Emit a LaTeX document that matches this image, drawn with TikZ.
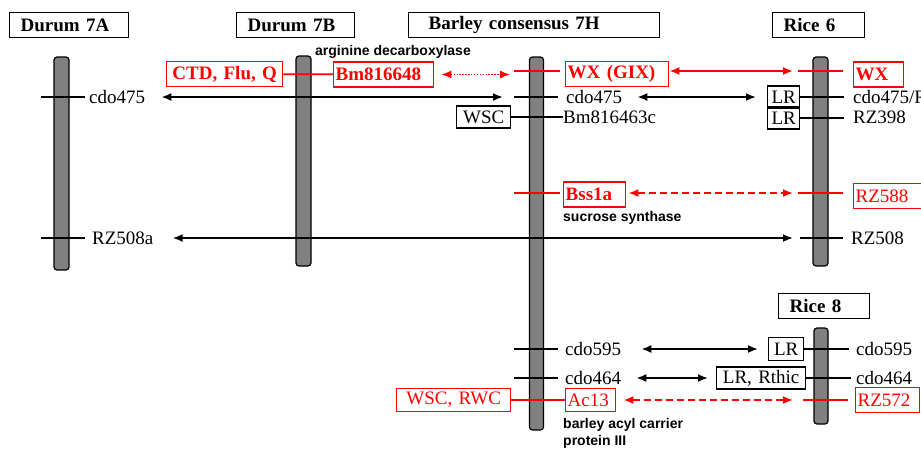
\documentclass[tikz,border=0pt]{standalone}
\usepackage{fontspec}
\setmainfont{Liberation Serif}
\setsansfont{Liberation Sans}
\usepackage{tikz}
\usetikzlibrary{positioning,arrows.meta,calc}
\definecolor{ink}      {HTML}{000000}
\definecolor{hot}      {HTML}{FF0000}
\definecolor{chromfill}{HTML}{808080}
\newcommand\mkfont{\fontsize{19}{21}\selectfont}
\newcommand\genefont{\fontsize{14}{17}\selectfont\sffamily\bfseries}
\tikzset{
  >={Latex[length=10pt,width=8pt]},
  % --- nodes
  hdr/.style   = {draw=ink, line width=1.4pt, anchor=north west, align=left,
                  minimum height=25pt, inner ysep=0pt, inner xsep=11pt,
                  font=\mkfont\bfseries, text width=#1},
  chrom/.style = {draw=ink, line width=1.2pt, fill=chromfill, rounded corners=3pt,
                  minimum width=15pt, inner sep=0pt},
  mk/.style    = {anchor=west, inner sep=0pt, font=\mkfont},
  bbox/.style  = {draw=ink, line width=1.3pt, anchor=west, align=center,
                  minimum height=22pt, inner ysep=0pt, inner xsep=2pt,
                  font=\mkfont, text width=#1},
  rbox/.style  = {bbox=#1, draw=hot, text=hot, line width=1.4pt, align=left,
                  minimum height=25pt},
  rboxb/.style = {rbox=#1, font=\mkfont\bfseries},
  gene/.style  = {anchor=west, inner sep=0pt, align=left, font=\genefont},
  % --- edges
  tk/.style    = {draw=ink, line width=1.7pt},
  rtk/.style   = {tk, draw=hot},
  e/.style     = {<->, line width=1.8pt, draw=ink},
  er/.style    = {e, draw=hot},
  erd/.style   = {er, dash pattern=on 7pt off 4pt},
  erdot/.style = {er, line width=1.3pt, dash pattern=on 1.4pt off 1.5pt},
}

\begin{document}
\begin{tikzpicture}[x=1pt, y=-1pt]
  \useasboundingbox (0,0) rectangle (921,448);
  \clip (0,0) rectangle (921,448);

  % --- headers
  \node[hdr=97pt] (h7A) at (9,12) {Durum 7A};
  \node[hdr=96pt] (h7B) at (236,12) {Durum 7B};
  \node[hdr=211pt, inner xsep=20pt] (h7H) at (408,12) {Barley consensus 7H};
  \node[hdr=70pt] (h6) at (772,12) {Rice 6};
  \node[hdr=69pt] (h8) at (778,293) {Rice 8};

  % --- chromosomes
  \node[chrom, minimum height=213pt] (c7A) at (61.5,163.5) {};
  \node[chrom, minimum height=210pt] (c7B) at (303.5,161) {};
  \node[chrom, minimum width=14pt, minimum height=373pt] (c7H) at (536.5,243.5) {};
  \node[chrom, minimum height=209pt] (c6) at (820.5,161.5) {};
  \node[chrom, minimum width=14pt, minimum height=96pt] (c8) at (821,376) {};

  % --- tick points
  \coordinate (tA1) at (41,97);
  \coordinate (tA2) at (41,238);
  \coordinate (tH1) at (514,71);
  \coordinate (tH2) at (514,97);
  \coordinate (tH4) at (514,193);
  \coordinate (tH5) at (514,349);
  \coordinate (tH6) at (514,378);
  \coordinate (t6a) at (798,71);
  \coordinate (t6d) at (798,193);
  \coordinate (t6e) at (800,238);
  \coordinate (t8c) at (803,400);

  % --- markers and traits
  \node[mk] (cdoA) at (89,97) {cdo475};
  \node[mk] (rzA) at (92,238) {RZ508a};
  \node[gene] (arg) at (315,52) {arginine decarboxylase};
  \node[rboxb=112pt, align=center] (ctd) at (166,74) {CTD, Flu, Q};
  \node[rboxb=96pt] (bm) at (333,74.5) {Bm816648};
  \node[rboxb=99pt] (wxgix) at (565,74) {WX (GIX)};
  \node[mk] (cdoH) at (566,97) {cdo475};
  \node[bbox=50pt] (wsc) at (456,117) {WSC};
  \node[mk] (bm63) at (563,117) {Bm816463c};
  \node[rboxb=58pt] (bss) at (563,194.5) {Bss1a};
  \node[gene] (suc) at (563,218) {sucrose synthase};
  \node[mk] (cdo595H) at (565,349) {cdo595};
  \node[mk] (cdo464H) at (565,378) {cdo464};
  \node[rbox=110pt, align=center, minimum height=23pt] (wscrwc) at (396,400) {WSC, RWC};
  \node[rbox=46pt, minimum height=23pt] (ac13) at (565,400) {Ac13};
  \node[gene, anchor=north west] (acp) at (563,418) {barley acyl carrier\\protein III};
  \node[rboxb=46pt] (wx) at (853,74.5) {WX};
  \node[bbox=28pt] (lr1) at (767,97) {LR};
  \node[mk] (cdo6) at (853,97) {cdo475/R};
  \node[bbox=28pt] (lr2) at (767,118) {LR};
  \node[mk] (rz398) at (853,117) {RZ398};
  \node[rbox=68pt] (rz588) at (853,196) {RZ588};
  \node[mk] (rz508) at (851,238) {RZ508};
  \node[bbox=31pt, minimum height=23pt] (lr3) at (768,349) {LR};
  \node[mk] (cdo595R) at (856,349) {cdo595};
  \node[bbox=85pt] (lrr) at (716,378) {LR, Rthic};
  \node[mk] (cdo464R) at (856,378) {cdo464};
  \node[rbox=60pt] (rz572) at (855,400) {RZ572};

  % --- ticks
  \foreach \c in {tA1,tA2,tH2,tH5,tH6}
    \draw[tk] (\c) -- ++(44,0);
  \foreach \c in {tH1,tH4}
    \draw[rtk] (\c) -- ++(46,0);
  \foreach \c in {t6a,t6d,t8c}
    \draw[rtk] (\c) -- ++(45,0);
  \draw[tk] (t6e) -- ++(43,0);
  \draw[tk] (wsc) -- (bm63);
  \draw[rtk] (ctd) -- (bm);
  \draw[rtk] (wscrwc) -- (ac13);
  \foreach \n in {lr1,lr2}
    \draw[tk] (\n.east) -- ++(44,0);
  \foreach \n in {lr3,lrr}
    \draw[tk] (\n.east) -- ++(45,0);

  % --- homology arrows
  \draw[erdot, shorten <=7pt, shorten >=4pt] (bm.east) -- (bm.east -| tH1);
  \draw[er, shorten >=5pt] (wxgix.east |- tH1) -- (t6a);
  \draw[e, shorten <=16pt, shorten >=11pt] (cdoA.east) -- (tH2);
  \draw[e, shorten <=15pt, shorten >=11pt] (cdoH.east) -- (cdoH.east -| lr1.west);
  \draw[erd, shorten <=2pt, shorten >=5pt] (bss.east |- tH4) -- (t6d);
  \draw[e, shorten <=19pt, shorten >=7pt] (rzA.east) -- (t6e);
  \draw[e, shorten <=20pt, shorten >=10pt] (cdo595H.east) -- (cdo595H.east -| lr3.west);
  \draw[e, shorten <=15pt, shorten >=8pt] (cdo464H.east) -- (cdo464H.east -| lrr.west);
  \draw[erd, shorten <=7pt, shorten >=10pt] (ac13.east |- t8c) -- (t8c);
\end{tikzpicture}
\end{document}
